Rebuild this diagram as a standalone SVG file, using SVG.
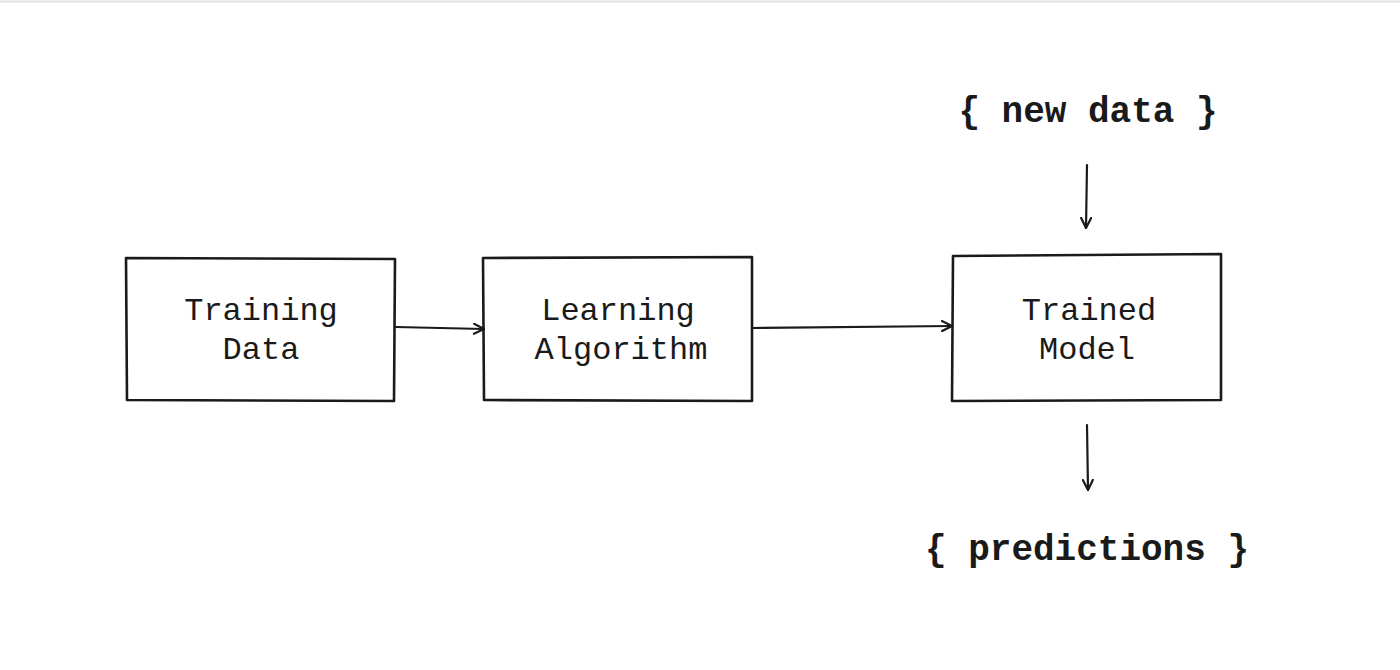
<svg xmlns="http://www.w3.org/2000/svg" width="1400" height="670" viewBox="0 0 1400 670">
<style>
.box{fill:none;stroke:#1a1a1a;stroke-width:2.6;stroke-linejoin:round}
.lbl{font-family:"Liberation Mono","DejaVu Sans Mono",monospace;font-size:32px;fill:#1a1a1a;text-anchor:middle}
.big{font-family:"Liberation Mono","DejaVu Sans Mono",monospace;font-size:36px;font-weight:bold;fill:#1a1a1a;text-anchor:middle}
.con{fill:none;stroke:#1a1a1a;stroke-width:2.2;stroke-linecap:round;marker-end:url(#ah)}
</style>
<defs>
<marker id="ah" viewBox="0 0 12 12" refX="11" refY="6" markerWidth="12" markerHeight="12" markerUnits="userSpaceOnUse" orient="auto">
<path d="M1,1 L11,6 L1,11" fill="none" stroke="#1a1a1a" stroke-width="2.2" stroke-linecap="round" stroke-linejoin="round"/>
</marker>
</defs>
<rect width="1400" height="670" fill="#fff"/>
<line x1="0" y1="1.5" x2="1400" y2="1.5" stroke="#e2e2e2" stroke-width="2"/>
<g id="training-data">
<path class="box" d="M126,258 L395,259 L394,401 L127,400 Z"/>
<text class="lbl" x="261" y="320">Training</text>
<text class="lbl" x="261" y="359">Data</text>
</g>
<g id="learning-algorithm">
<path class="box" d="M483,258 L752,257 L752,401 L484,400 Z"/>
<text class="lbl" x="618" y="320">Learning</text>
<text class="lbl" x="621" y="359">Algorithm</text>
</g>
<g id="trained-model">
<path class="box" d="M953,256 L1221,254 L1221,400 L952,401 Z"/>
<text class="lbl" x="1089" y="320">Trained</text>
<text class="lbl" x="1087" y="359">Model</text>
</g>
<g id="new-data">
<text class="big" x="1088" y="122">{ new data }</text>
</g>
<g id="predictions">
<text class="big" x="1087" y="560">{ predictions }</text>
</g>
<g id="connectors">
<path class="con" d="M396,327 L484,329"/>
<path class="con" d="M753,328 L952,326"/>
<path class="con" d="M1087,165 L1086,228"/>
<path class="con" d="M1087,425 L1088,490"/>
</g>
</svg>
